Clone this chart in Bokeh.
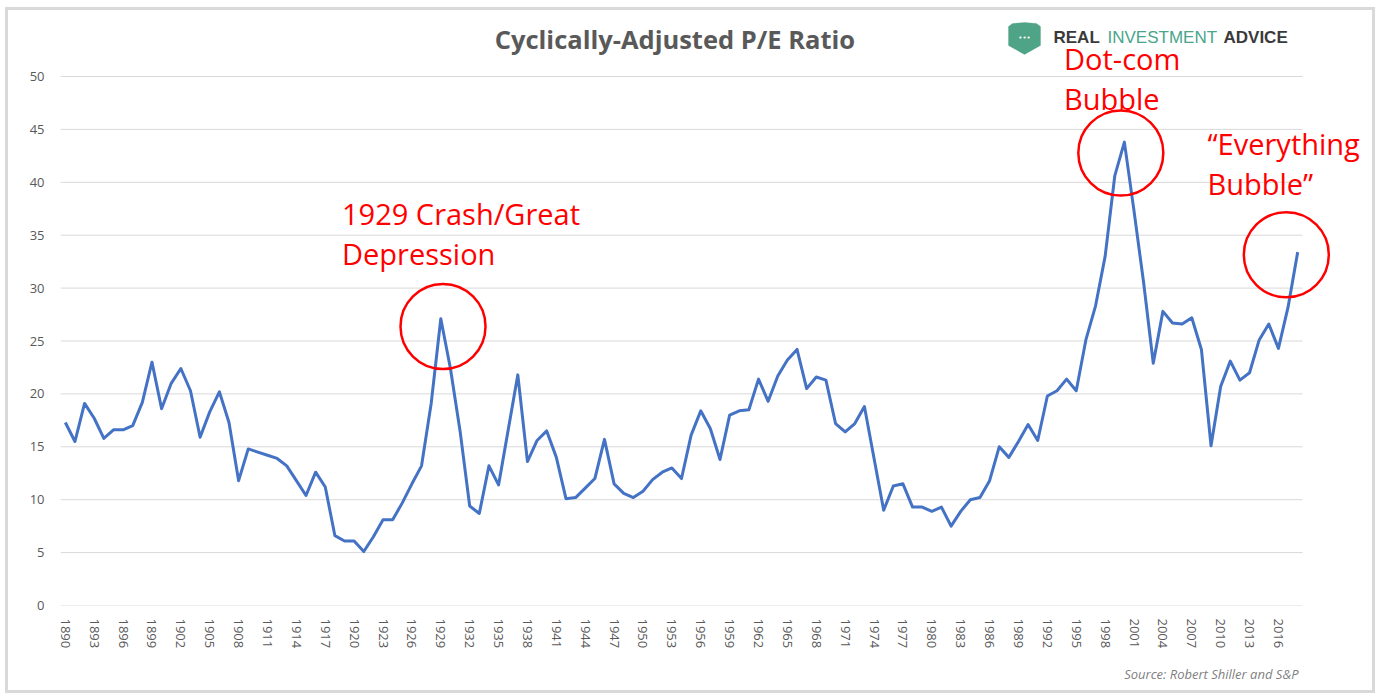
from bokeh.plotting import figure
from bokeh.models import Label, FixedTicker, PolyAnnotation, Title
from bokeh.embed import file_html
from bokeh.resources import INLINE

years = list(range(1890, 2019))
cape = [
    17.3, 15.5, 19.1, 17.7, 15.8, 16.6, 16.6, 17.0, 19.2, 23.0,   # 1890-1899
    18.6, 21.0, 22.4, 20.3, 15.9, 18.3, 20.2, 17.3, 11.8, 14.8,   # 1900-1909
    14.5, 14.2, 13.9, 13.2, 11.8, 10.4, 12.6, 11.2, 6.6, 6.1,     # 1910-1919
    6.1, 5.1, 6.5, 8.1, 8.1, 9.7, 11.5, 13.2, 19.1, 27.1,         # 1920-1929
    22.4, 16.5, 9.4, 8.7, 13.2, 11.4, 16.6, 21.8, 13.6, 15.6,     # 1930-1939
    16.5, 14.0, 10.1, 10.2, 11.1, 12.0, 15.7, 11.5, 10.6, 10.2,   # 1940-1949
    10.8, 11.9, 12.6, 13.0, 12.0, 16.1, 18.4, 16.7, 13.8, 18.0,   # 1950-1959
    18.4, 18.5, 21.4, 19.3, 21.7, 23.2, 24.2, 20.5, 21.6, 21.3,   # 1960-1969
    17.2, 16.4, 17.2, 18.8, 13.9, 9.0, 11.3, 11.5, 9.3, 9.3,      # 1970-1979
    8.9, 9.3, 7.5, 8.9, 10.0, 10.2, 11.8, 15.0, 14.0, 15.5,       # 1980-1989
    17.1, 15.6, 19.8, 20.3, 21.4, 20.3, 25.1, 28.3, 33.0, 40.6,   # 1990-1999
    43.8, 37.3, 30.5, 22.9, 27.8, 26.7, 26.6, 27.2, 24.2, 15.1,   # 2000-2009
    20.7, 23.1, 21.3, 22.0, 25.1, 26.6, 24.3, 28.2, 33.4,         # 2010-2018
]
assert len(years) == len(cape)

tick_years = list(range(1890, 2017, 3))
y_ticks = [0, 5, 10, 15, 20, 25, 30, 35, 40, 45, 50]

circle_x = [1929.23, 1999.63, 2016.82]
circle_y = [26.37, 42.77, 33.15]

title_text = "Cyclically-Adjusted P/E Ratio"
source_text = "Source: Robert Shiller and S&P"

# ---- geometry (page pixels) ----
W, H = 1370, 686            # figure content size (css border adds 3px each side)
ML, MT = 5, 7               # css margins
BORDER = 3
CX0, CY0 = ML + BORDER, MT + BORDER        # content origin on the page
FL, FB = 60, 605                            # frame left / bottom on page
FR, FT = CX0 + W, CY0                       # frame right / top on page (frame spans to edges)
PPX = 1242.0 / 129                          # pixels per year
PPY = 529.0 / 50                            # pixels per P/E unit

X0 = 1889.5
X1 = X0 + (FR - FL) / PPX
Y0 = 0.0
Y1 = (FB - FT) / PPY

def dx(px):
    return X0 + (px - FL) / PPX

def dy(py):
    return (FB - py) / PPY

def text_at(px, py, text, size, **kw):
    # py = wanted baseline on the page; compensate renderer's baseline offset
    return Label(x=dx(px), y=dy(py - 0.4 * size), text=text, text_baseline="alphabetic",
                 text_font_size=f"{size}px", **kw)

p = figure(width=W, height=H, output_backend="svg", toolbar_location=None,
           x_range=(X0, X1), y_range=(Y0, Y1),
           min_border_left=FL - CX0, min_border_right=0, min_border_top=0,
           min_border_bottom=CY0 + H - FB)
p.title.visible = False
p.styles = {"border": "3px solid #d9d9d9", "margin-left": f"{ML}px", "margin-top": f"{MT}px"}
p.outline_line_color = None
p.background_fill_color = "white"
p.border_fill_color = "white"

# horizontal gridlines limited to the data span
p.ygrid.visible = False
p.xgrid.visible = False
p.segment(x0=[X0] * len(y_ticks), x1=[2018.5] * len(y_ticks), y0=y_ticks, y1=y_ticks,
          line_color="#d9d9d9", line_width=1)

p.line(years, cape, line_color="#4472C4", line_width=3, line_join="round")

p.scatter(circle_x, circle_y, marker="circle", size=85, fill_color=None,
          line_color="#FF0000", line_width=2.5)

# axes
p.xaxis.ticker = FixedTicker(ticks=tick_years)
p.xaxis.major_label_orientation = "vertical"
p.yaxis.ticker = FixedTicker(ticks=y_ticks)
for ax in (p.xaxis, p.yaxis):
    ax.axis_line_color = None
    ax.major_tick_line_color = None
    ax.minor_tick_line_color = None
    ax.major_label_text_color = "#595959"
    ax.major_label_text_font = "Open Sans"
p.yaxis.major_label_text_font_size = "13px"
p.xaxis.major_label_text_font_size = "13px"
p.yaxis.major_label_standoff = 10
p.xaxis.major_label_standoff = 7

# title
p.add_layout(text_at(674.4, 48.3, title_text, 25.5, text_align="center", text_font="Open Sans",
                     text_font_style="bold", text_color="#595959"))

# annotations
red_lines = [
    (341.5, 225, "1929 Crash/Great"), (341.5, 265, "Depression"),
    (1063.5, 69.3, "Dot-com"), (1063.5, 110, "Bubble"),
    (1207, 154.3, "\u201cEverything"), (1207, 194.3, "Bubble\u201d"),
]
for px, py, t in red_lines:
    p.add_layout(text_at(px, py, t, 29, text_align="left", text_font="Open Sans",
                         text_color="#FF0000"))

# source (below the axis)
src = Title(text=source_text, align="right", offset=FR - 1298, standoff=23,
            text_font="Open Sans", text_font_style="italic", text_font_size="13px",
            text_color="#7f7f7f")
p.add_layout(src, "below")

# logo
shield_px = [1008, 1012, 1024, 1036, 1040, 1040, 1024, 1008]
shield_py = [26, 23, 22, 23, 26, 45, 54, 45]
p.add_layout(PolyAnnotation(xs=[dx(v) for v in shield_px], ys=[dy(v) for v in shield_py],
                            fill_color="#4fa386", fill_alpha=1.0, line_color="#4fa386"))
p.add_layout(Label(x=dx(1024), y=dy(37), text="\u2022\u2022\u2022", text_align="center",
                   text_baseline="middle", text_font="DejaVu Sans", text_font_size="7px",
                   text_color="white"))
for px, t, col, sty in [(1053, "REAL", "#3a3a3a", "bold"), (1107, "INVESTMENT", "#4aa58a", "normal"),
                        (1223, "ADVICE", "#3a3a3a", "bold")]:
    p.add_layout(text_at(px, 43.5, t, 17, text_align="left", text_font="Liberation Sans",
                         text_font_style=sty, text_color=col))

open("out.html", "w").write(file_html(p, INLINE))
